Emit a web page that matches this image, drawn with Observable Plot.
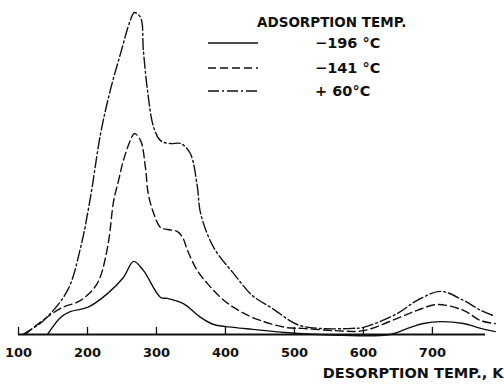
<!DOCTYPE html>
<html><head><meta charset="utf-8">
<script src="https://cdn.jsdelivr.net/npm/d3@7"></script>
<script src="https://cdn.jsdelivr.net/npm/@observablehq/plot@0.6"></script>
<style>
body{margin:0;background:#fff;}
#wrap{position:relative;width:504px;height:385px;font-family:"DejaVu Sans",sans-serif;}
#legend{position:absolute;left:0;top:0;}
</style></head><body><div id="wrap"></div>
<script>
// Desorption temperature (K) and relative desorption rate (arbitrary units)
const tempMinus196 = [142,161,175,200,229,252,267,281,306,316,339,364,383,412,439,487,536,639,664,687,712,745,770,791];
const rateMinus196 = [0,5.3,7.1,8.4,12.7,17.7,22.7,19.9,11.5,11.2,9.6,5.3,3.1,2.2,1.6,0.6,0,0,1.9,3.4,4,3.4,1.9,0.9];
const tempMinus141 = [110,122,161,190,214,229,238,245,252,262,268,277,284,288,296,306,316,330,338,345,359,374,393,412,439,487,512,559,600,649,678,707,745,770,791];
const rateMinus141 = [0,2.2,8.1,10.6,15.8,27,41.6,47.8,54,60.2,62.4,60.2,51.9,43.8,37.6,33.2,32.6,32,30.1,26.1,19.9,15.8,11.5,8.4,5.3,2.2,1.9,1.2,1.2,5,7.5,9.3,7.5,4.3,3.4];
const temp60 = [106,136,171,190,204,219,233,248,262,268,277,281,287,296,306,320,335,349,359,364,383,412,439,468,504,536,584,600,649,678,712,745,770,788];
const rate60 = [0,4.3,13.7,27,42.2,62.4,75.8,87.3,97.5,100,98.4,88.2,75.8,64.3,60.2,59.3,59.3,56.2,46.3,37.6,27,18.9,12.1,8.1,3.1,1.9,1.9,2.2,6.5,10.6,13.4,10.6,7.5,5.9];

const seriesNames = ["\u2212196 \u00b0C", "\u2212141 \u00b0C", "+ 60\u00b0C"];
const xTicks = [100,200,300,400,500,600,700];
const xTitle = "DESORPTION TEMP., K";
const legendTitle = "ADSORPTION TEMP.";

const dashes = [null, "8,4", "11,3,2,3"];
const seriesT = [tempMinus196, tempMinus141, temp60];
const seriesV = [rateMinus196, rateMinus141, rate60];

const rows = [];
seriesNames.forEach((s, i) => seriesT[i].forEach((t, j) => rows.push({series: s, t, v: seriesV[i][j]})));

const lineMarks = seriesNames.map((s, i) =>
  Plot.line(rows.filter(d => d.series === s), {
    x: "t", y: "v", curve: "catmull-rom", stroke: "#111", strokeWidth: 1.4,
    strokeDasharray: dashes[i] || undefined
  })
);

const chart = Plot.plot({
  width: 504, height: 385,
  marginLeft: 18, marginRight: 10, marginTop: 12, marginBottom: 51,
  style: {background: "#fff", fontFamily: "DejaVu Sans, sans-serif", color: "#111"},
  x: {domain: [100, 790]},
  y: {domain: [0, 100], axis: null},
  marks: [
    Plot.ruleY([0], {x1: 100, x2: 777, stroke: "#111", strokeWidth: 1.8}),
    Plot.ruleX(xTicks, {x: d => d, y1: 0, y2: 2.2, stroke: "#111", strokeWidth: 1.3}),
    Plot.axisX({ticks: xTicks, tickSize: 0, tickPadding: 13, label: null,
      fontSize: 13, fontWeight: "bold", tickFormat: d => String(d)}),
    ...lineMarks,
    Plot.text([xTitle], {frameAnchor: "bottom-right", textAnchor: "end", dx: 9, dy: 43,
      fontSize: 14.5, fontWeight: "bold", fill: "#111"})
  ]
});
chart.querySelectorAll("text").forEach(t => t.style.fontWeight = "bold");
document.getElementById("wrap").appendChild(chart);

// legend overlay
const lg = d3.select("#wrap").append("svg").attr("id", "legend")
  .attr("width", 504).attr("height", 110)
  .style("font-family", "DejaVu Sans, sans-serif").style("font-weight", "bold");
lg.append("text").attr("x", 257).attr("y", 27).attr("font-size", 13.5).attr("fill", "#111").text(legendTitle);
const ys = [43, 68, 91];
seriesNames.forEach((s, i) => {
  lg.append("line").attr("x1", 208).attr("x2", 258).attr("y1", ys[i]).attr("y2", ys[i])
    .attr("stroke", "#111").attr("stroke-width", 1.6).attr("stroke-dasharray", dashes[i]);
  lg.append("text").attr("x", 315).attr("y", ys[i] + 5).attr("font-size", 14.5).attr("fill", "#111").text(s);
});
</script></body></html>
